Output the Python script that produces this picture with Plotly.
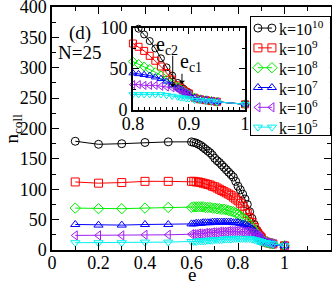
import plotly.graph_objects as go

E = [0.1, 0.2, 0.3, 0.4, 0.5,
     0.60, 0.61, 0.62, 0.63, 0.64, 0.65, 0.66, 0.67, 0.68, 0.69,
     0.70, 0.71, 0.72, 0.73, 0.74, 0.75, 0.76, 0.77, 0.78, 0.79,
     0.80, 0.81, 0.82, 0.83, 0.84, 0.85, 0.86, 0.87,
     0.88, 0.885, 0.89, 0.895, 0.90,
     0.91, 0.92, 0.93, 0.94, 0.95, 1.0]

K10 = [179, 174, 175, 177, 178,
       178, 177, 176, 174, 172, 169, 166, 163, 160, 156,
       151, 147, 144, 140, 136, 132, 128, 124, 120, 113,
       105, 99, 92, 84, 75, 63, 52, 42,
       33, 29, 26, 23, 21,
       15, 13, 12, 11, 10, 7]
K9 = [112, 110, 111, 113, 113,
      113, 113, 112, 112, 111, 110, 109, 108, 107, 105,
      104, 102, 100, 98, 96, 94, 92, 90, 87, 84,
      81, 77, 72, 66, 60, 53, 45, 37,
      30, 27, 24, 22, 20,
      15, 13, 12, 11, 10, 7]
K8 = [69, 68, 68, 69, 70,
      70, 71, 71, 71, 71, 71, 70, 70, 70, 69,
      69, 68, 68, 67, 67, 66, 65, 64, 63, 61,
      59, 56, 53, 50, 46, 42, 37, 32,
      28, 25, 23, 21, 19,
      15, 13, 12, 11, 10, 7]
K7 = [42, 41, 41, 42, 42,
      43, 43, 44, 44, 44, 45, 45, 45, 45, 46,
      46, 46, 46, 46, 46, 46, 46, 46, 45, 45,
      45, 44, 43, 42, 40, 38, 35, 31,
      27, 25, 23, 21, 19,
      15, 13, 12, 11, 10, 7]
K6 = [24, 24, 24, 25, 25,
      26, 26, 26, 27, 27, 27, 28, 28, 28, 29,
      29, 29, 30, 30, 30, 30, 31, 31, 31, 31,
      31, 31, 30, 30, 30, 29, 28, 27,
      25, 24, 22, 21, 19,
      14, 13, 12, 11, 10, 7]
K5 = [12, 12, 12, 13, 13,
      14, 14, 14, 15, 15, 15, 15, 16, 16, 16,
      17, 17, 17, 17, 18, 18, 18, 18, 19, 19,
      19, 19, 19, 19, 19, 19, 18, 17,
      16, 15, 15, 14, 14,
      12, 12, 11, 11, 10, 7]

SERIES = [K10, K9, K8, K7, K6, K5]
NAMES = ["k=10<sup>10</sup>", "k=10<sup>9</sup>", "k=10<sup>8</sup>",
         "k=10<sup>7</sup>", "k=10<sup>6</sup>", "k=10<sup>5</sup>"]
COLORS = ["#000000", "#ff0000", "#00f000", "#0000ff", "#a020f0", "#00f0f0"]
SYMBOLS = ["circle-open", "square-open", "diamond-open",
           "triangle-up-open", "triangle-left-open", "triangle-down-open"]

MAIN_XTICKS = [0, 0.2, 0.4, 0.6, 0.8, 1.0, 1.2]
MAIN_XTEXT = ["0", "0.2", "0.4", "0.6", "0.8", "1", ""]
INSET_XTICKS = [0.8, 0.9, 1.0]
INSET_XTEXT = ["0.8", "0.9", "1"]

FONT = "Liberation Serif"

fig = go.Figure()
for vals, name, col, sym in zip(SERIES, NAMES, COLORS, SYMBOLS):
    fig.add_trace(go.Scatter(
        x=E, y=vals, mode="lines+markers", name=name, showlegend=False,
        xaxis="x", yaxis="y",
        line=dict(color=col, width=1),
        marker=dict(symbol=sym, size=8, color=col, line=dict(color=col, width=1)),
    ))
for vals, name, col, sym in zip(SERIES, NAMES, COLORS, SYMBOLS):
    xi = [e for e in E if e >= 0.8]
    yi = [v for e, v in zip(E, vals) if e >= 0.8]
    fig.add_trace(go.Scatter(
        x=xi, y=yi, mode="lines+markers", name=name, showlegend=False,
        xaxis="x2", yaxis="y2", cliponaxis=False,
        line=dict(color=col, width=1),
        marker=dict(symbol=sym, size=7, color=col, line=dict(color=col, width=1)),
    ))

# legend box drawn on its own small axes: a short sample line with a marker at each end
for i, (name, col, sym) in enumerate(zip(NAMES, COLORS, SYMBOLS)):
    fig.add_trace(go.Scatter(
        x=[7, 21], y=[i, i], mode="lines+markers", showlegend=False,
        xaxis="x3", yaxis="y3", cliponaxis=False, hoverinfo="skip",
        line=dict(color=col, width=1),
        marker=dict(symbol=sym, size=8, color=col, line=dict(color=col, width=1)),
    ))
    fig.add_annotation(text=name, xref="x3", yref="y3", x=26, y=i,
                       xanchor="left", yanchor="middle", showarrow=False,
                       font=dict(family=FONT, size=16, color="black"))

axcommon = dict(showgrid=False, zeroline=False, showline=True, linecolor="black",
                linewidth=1.5, mirror="allticks", ticks="inside", tickcolor="black",
                automargin=False, ticklabeloverflow="allow",
                tickfont=dict(family=FONT, size=18, color="black"))

fig.update_layout(
    width=332, height=281,
    margin=dict(l=52, r=1, t=7, b=31),
    paper_bgcolor="white", plot_bgcolor="white",
    font=dict(family=FONT, color="black"),
    showlegend=False,
    xaxis=dict(domain=[0, 1], range=[0, 1.2], tickmode="array",
               tickvals=MAIN_XTICKS, ticktext=MAIN_XTEXT, ticklen=7,
               ticklabelstandoff=-4,
               minor=dict(dtick=0.1, ticklen=4, ticks="inside", tickcolor="black"),
               **axcommon),
    yaxis=dict(domain=[0, 1], range=[0, 400], dtick=50, ticklen=7,
               minor=dict(dtick=25, ticklen=4, ticks="inside", tickcolor="black"),
               **axcommon),
    xaxis2=dict(domain=[0.290, 0.692], anchor="y2", range=[0.8, 1.0], tickmode="array",
                tickvals=INSET_XTICKS, ticktext=INSET_XTEXT, ticklen=6,
                ticklabelstandoff=-3,
                minor=dict(dtick=0.01, ticklen=3, ticks="inside", tickcolor="black"),
                **axcommon),
    yaxis2=dict(domain=[0.576, 0.914], anchor="x2", range=[0, 100], dtick=50, ticklen=6,
                minor=dict(dtick=25, ticklen=3, ticks="inside", tickcolor="black"),
                **axcommon),
    xaxis3=dict(domain=[0.713, 0.996], anchor="y3", range=[0, 79], automargin=False,
                showgrid=False, zeroline=False, showticklabels=False, ticks="",
                showline=True, mirror=True, linecolor="black", linewidth=1.2,
                fixedrange=True),
    yaxis3=dict(domain=[0.473, 0.959], anchor="x3", range=[5.40, -0.56], automargin=False,
                showgrid=False, zeroline=False, showticklabels=False, ticks="",
                showline=True, mirror=True, linecolor="black", linewidth=1.2,
                fixedrange=True),
)

def note(text, x, y, size, **kw):
    fig.add_annotation(text=text, x=x, y=y, xanchor="center", yanchor="middle",
                       showarrow=False, font=dict(family=FONT, size=size, color="black"), **kw)

note("e", 0.5, -0.099, 19, xref="paper", yref="paper")
note("n<sub>coll</sub>", -0.143, 0.5, 19, xref="paper", yref="paper", textangle=-90)
note("(d)", 0.100, 0.893, 19, xref="paper", yref="paper")
note("N=25", 0.097, 0.811, 19, xref="paper", yref="paper")
note("e<sub>c2</sub>", 0.861, 78, 20, xref="x2", yref="y2")
note("e<sub>c1</sub>", 0.904, 58, 20, xref="x2", yref="y2")

fig.add_annotation(text="", xref="x2", yref="y2", x=0.871, y=28,
                   axref="x2", ayref="y2", ax=0.871, ay=68,
                   showarrow=True, arrowhead=1, arrowsize=1, arrowwidth=1, arrowcolor="black")
fig.add_annotation(text="", xref="x2", yref="y2", x=0.8875, y=32,
                   axref="x2", ayref="y2", ax=0.8875, ay=46,
                   showarrow=True, arrowhead=1, arrowsize=1, arrowwidth=1, arrowcolor="black")

fig.write_html("out.html", config={"displayModeBar": False},
               post_script="document.body.style.margin='0';")
